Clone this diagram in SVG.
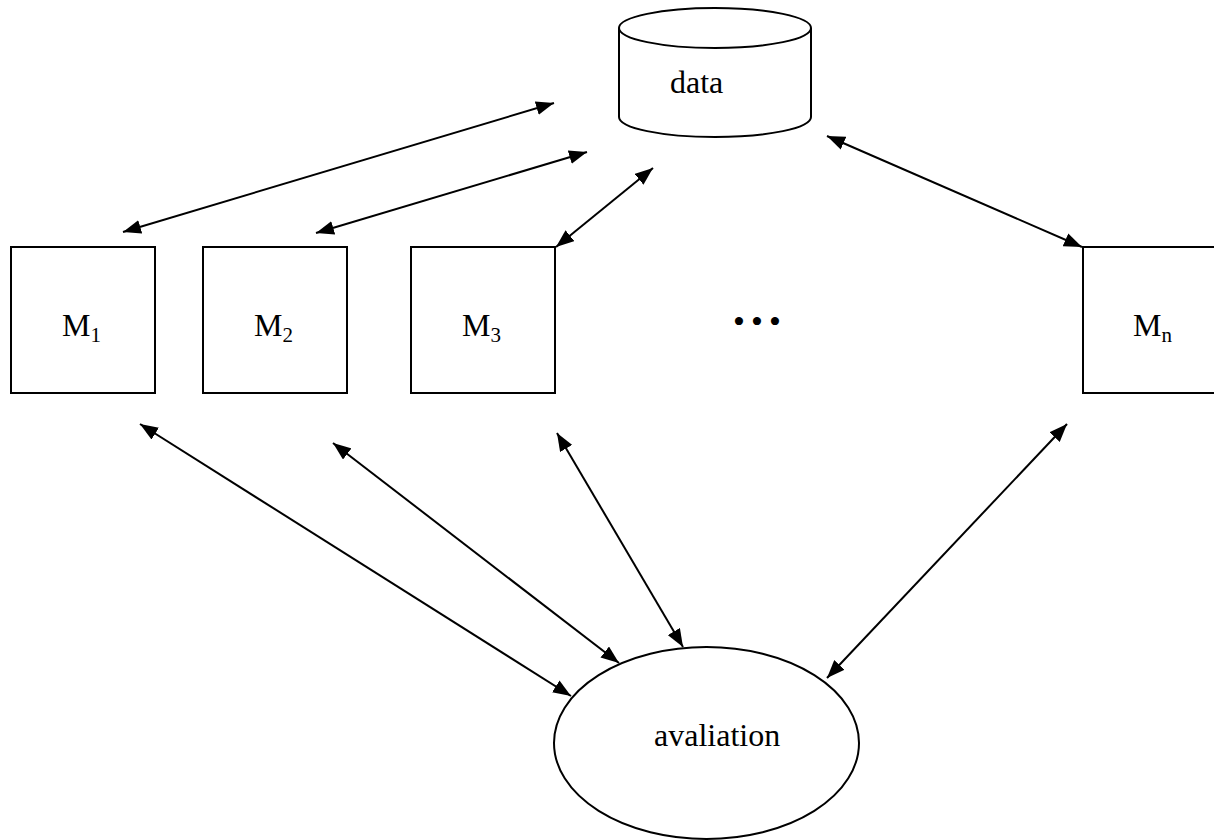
<svg xmlns="http://www.w3.org/2000/svg" width="1214" height="840" viewBox="0 0 1214 840">
<style>
.shape{fill:#fff;stroke:#000;stroke-width:2}
.lbl{font-family:"Liberation Serif","Times New Roman",serif;font-size:32px;fill:#000}
.sub{font-size:21px}
.conn{stroke:#000;stroke-width:2;fill:none;marker-start:url(#ah);marker-end:url(#ah)}
</style>
<defs>
<marker id="ah" viewBox="0 0 18 14" refX="18" refY="7" markerWidth="18" markerHeight="14" markerUnits="userSpaceOnUse" orient="auto-start-reverse">
<path d="M0,0 L18,7 L0,14 z" fill="#000"/>
</marker>
</defs>
<rect width="1214" height="840" fill="#fff"/>
<g id="data">
<path class="shape" d="M619,28 L619,117 A96,20 0 0 0 811,117 L811,28 A96,20 0 0 0 619,28 Z"/>
<path class="shape" d="M619,28 A96,20 0 0 0 811,28" fill="none"/>
<text class="lbl" x="670" y="93">data</text>
</g>
<g id="m1">
<rect class="shape" x="11" y="247" width="144" height="146"/>
<text class="lbl" x="62" y="336">M<tspan class="sub" dy="6">1</tspan></text>
</g>
<g id="m2">
<rect class="shape" x="203" y="247" width="144" height="146"/>
<text class="lbl" x="254" y="336">M<tspan class="sub" dy="6">2</tspan></text>
</g>
<g id="m3">
<rect class="shape" x="411" y="247" width="144" height="146"/>
<text class="lbl" x="462" y="336">M<tspan class="sub" dy="6">3</tspan></text>
</g>
<g id="dots">
<text class="lbl" x="739 757 775" y="333" text-anchor="middle" style="font-size:34px">•••</text>
</g>
<g id="mn">
<rect class="shape" x="1083" y="247" width="144" height="146"/>
<text class="lbl" x="1133" y="336">M<tspan class="sub" dy="6">n</tspan></text>
</g>
<g id="avaliation">
<ellipse class="shape" cx="706.5" cy="743" rx="152.5" ry="96"/>
<text class="lbl" x="654" y="746">avaliation</text>
</g>
<g id="connectors">
<line class="conn" x1="554" y1="103" x2="123" y2="232"/>
<line class="conn" x1="587" y1="152" x2="316" y2="233"/>
<line class="conn" x1="653" y1="168" x2="556" y2="247"/>
<line class="conn" x1="827" y1="136" x2="1082" y2="247"/>
<line class="conn" x1="140" y1="424" x2="571" y2="696"/>
<line class="conn" x1="333" y1="443" x2="619" y2="663"/>
<line class="conn" x1="557" y1="433" x2="683" y2="647"/>
<line class="conn" x1="1067" y1="424" x2="827" y2="678"/>
</g>
</svg>
